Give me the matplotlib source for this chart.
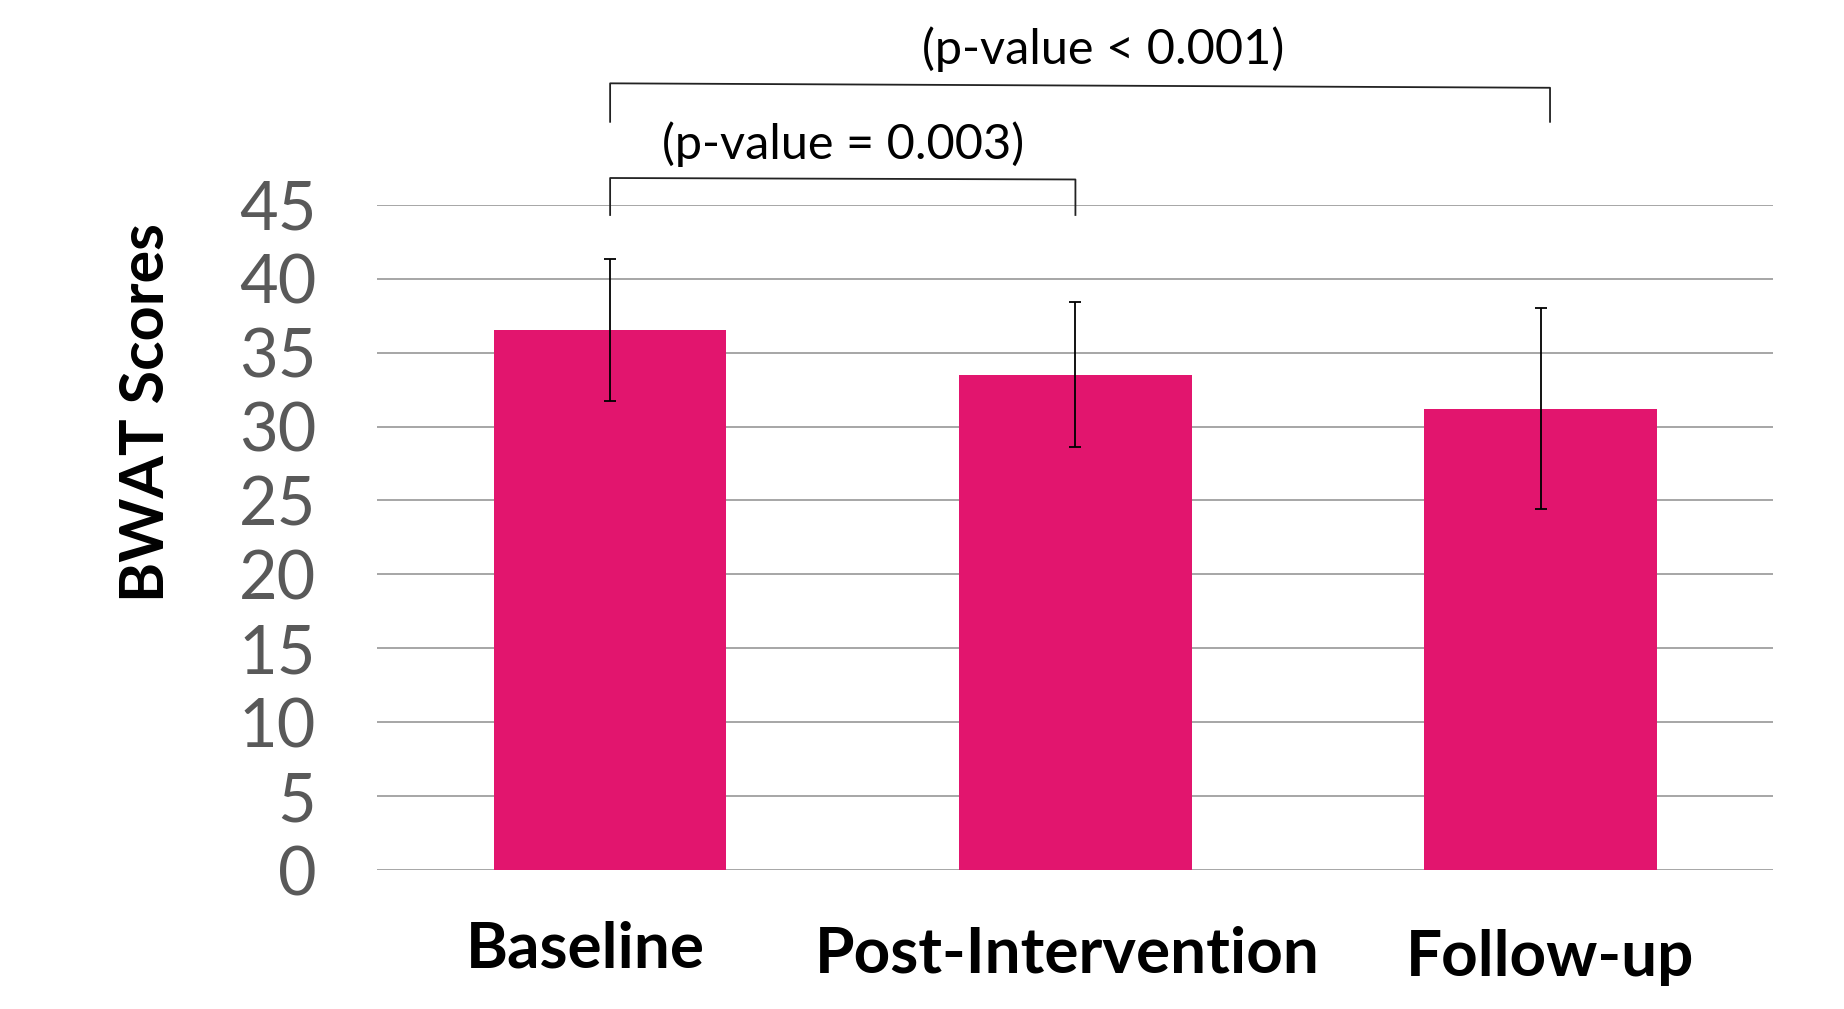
import matplotlib.pyplot as plt
from matplotlib.transforms import ScaledTranslation

categories = ['Baseline', 'Post-Intervention', 'Follow-up']
means = [36.5, 33.5, 31.2]
errors = [4.8, 4.9, 6.8]
y_ticks = [0, 5, 10, 15, 20, 25, 30, 35, 40, 45]

# significance brackets: (left x, right x, line y left, line y right, tick bottom, label, label x, label y)
brackets = [
    (0, 1, 46.8, 46.7, 44.3, '(p-value = 0.003)', 0.5, 49.1),
    (0, 2.02, 53.2, 52.9, 50.6, '(p-value < 0.001)', 1.06, 55.5),
]

# the category labels sit a bit off-centre in the original (points)
label_shift = [(-18, -2), (-6, -6), (7, -8)]

bar_color = '#E2156E'
plt.rcParams['font.family'] = ['Lato', 'DejaVu Sans']

fig = plt.figure(figsize=(18.44, 10.09), dpi=100)
ax = fig.add_axes([0.2047, 0.1375, 0.757, 0.6597])

x = range(len(categories))
ax.bar(x, means, width=0.5, color=bar_color, zorder=2)
ax.errorbar(x, means, yerr=errors, fmt='none', ecolor='black',
            elinewidth=1.3, capsize=4, capthick=1.3, zorder=3)

ax.set_xlim(-0.5, len(categories) - 0.5)
ax.set_ylim(0, 45)
ax.set_yticks(y_ticks)
ax.set_yticklabels([str(v) for v in y_ticks], fontsize=48, color='#595959')
ax.set_xticks(list(x))
ax.set_xticklabels(categories, fontsize=46, fontweight='bold', color='black')
ax.tick_params(axis='both', length=0)
ax.tick_params(axis='x', pad=34)
ax.tick_params(axis='y', pad=44)
for lbl, (dx, dy) in zip(ax.get_xticklabels(), label_shift):
    lbl.set_transform(lbl.get_transform() + ScaledTranslation(dx / 72, dy / 72, fig.dpi_scale_trans))
ax.grid(axis='y', color='#A6A6A6', linewidth=1.4, zorder=0)
ax.set_axisbelow(True)
for s in ax.spines.values():
    s.set_visible(False)

ax.set_ylabel('BWAT Scores', fontsize=44, fontweight='bold')
ax.yaxis.set_label_coords(-0.146, 0.687)

for x0, x1, yl, yr, yb, label, tx, ty in brackets:
    ax.plot([x0, x0, x1, x1], [yb, yl, yr, yb], color='#222222',
            linewidth=1.3, clip_on=False)
    ax.text(tx, ty, label, ha='center', va='center', fontsize=35,
            color='black')

fig.savefig('out.png', dpi=100)
